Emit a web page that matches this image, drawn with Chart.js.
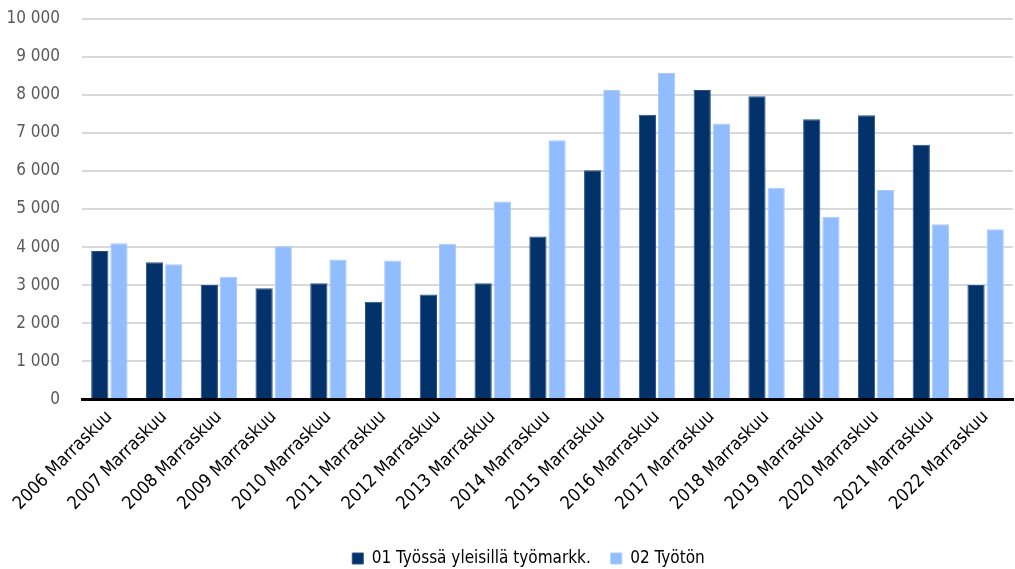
<!DOCTYPE html>
<html>
<head>
<meta charset="utf-8">
<script src="https://cdn.jsdelivr.net/npm/chart.js@4/dist/chart.umd.min.js"></script>
<style>
  html, body { margin: 0; padding: 0; background: #fff; }
  #wrap { width: 1015px; height: 569px; position: relative; }
</style>
</head>
<body>
<div id="wrap"><canvas id="chart"></canvas></div>
<script>
// ── Data ─────────────────────────────────────────────────────────────
var categories = ["2006 Marraskuu", "2007 Marraskuu", "2008 Marraskuu", "2009 Marraskuu",
  "2010 Marraskuu", "2011 Marraskuu", "2012 Marraskuu", "2013 Marraskuu", "2014 Marraskuu",
  "2015 Marraskuu", "2016 Marraskuu", "2017 Marraskuu", "2018 Marraskuu", "2019 Marraskuu",
  "2020 Marraskuu", "2021 Marraskuu", "2022 Marraskuu"];
var tyossa = [3900, 3600, 3000, 2920, 3050, 2560, 2750, 3050, 4280, 6020, 7480, 8130, 7970, 7360, 7470, 6690, 3000];
var tyoton = [4100, 3550, 3220, 4020, 3670, 3650, 4090, 5200, 6810, 8130, 8580, 7250, 5560, 4800, 5500, 4600, 4470];
var seriesNames = ["01 Työssä yleisillä työmarkk.", "02 Työtön"];
var yTicks = [0, 1000, 2000, 3000, 4000, 5000, 6000, 7000, 8000, 9000, 10000];

var FONT = "'Liberation Sans Narrow', 'DejaVu Sans Condensed', 'Roboto Condensed', sans-serif";

function fmt(v) {
  return String(v).replace(/\B(?=(\d{3})+(?!\d))/g, " ");
}

// nudge the legend to the right, as in the original layout
var legendShift = {
  id: "legendShift",
  afterLayout: function (chart) {
    var lg = chart.legend;
    if (!lg) return;
    lg.left += 22;
    lg.right += 22;
    lg.top += 8;
    lg.bottom += 8;
  }
};

new Chart(document.getElementById("chart").getContext("2d"), {
  type: "bar",
  data: {
    labels: categories,
    datasets: [{
      label: seriesNames[0],
      data: tyossa,
      backgroundColor: "#03316a",
      borderColor: "#2a5288",
      borderWidth: 1,
      categoryPercentage: 0.7,
      barPercentage: 0.9
    }, {
      label: seriesNames[1],
      data: tyoton,
      backgroundColor: "#91bdfe",
      borderColor: "#a8cbff",
      borderWidth: 1,
      categoryPercentage: 0.7,
      barPercentage: 0.9
    }]
  },
  plugins: [legendShift],
  options: {
    responsive: true,
    maintainAspectRatio: false,
    animation: false,
    layout: { padding: { top: 0, right: 2, left: 0, bottom: 0 } },
    plugins: {
      legend: {
        position: "bottom",
        labels: {
          color: "#000",
          font: { family: FONT, size: 17 },
          boxWidth: 11,
          boxHeight: 11,
          padding: 20
        }
      },
      tooltip: { enabled: false }
    },
    scales: {
      x: {
        grid: { display: false, drawTicks: false },
        border: { color: "#000", width: 3 },
        ticks: {
          color: "#000",
          font: { family: FONT, size: 18 },
          maxRotation: 45,
          minRotation: 45,
          padding: 7.5,
          autoSkip: false
        }
      },
      y: {
        min: 0,
        max: 10000,
        afterBuildTicks: function (axis) {
          axis.ticks = yTicks.map(function (v) { return { value: v }; });
        },
        afterFit: function (axis) {
          axis.width = 82;
          axis.paddingTop = 19;
          axis.paddingBottom = 10;
        },
        grid: { color: "#d9d9d9", lineWidth: 2, drawTicks: false },
        border: { display: false },
        ticks: {
          color: "#595959",
          font: { family: FONT, size: 17 },
          padding: 22,
          callback: function (v) { return fmt(v); }
        }
      }
    }
  }
});
</script>
</body>
</html>
